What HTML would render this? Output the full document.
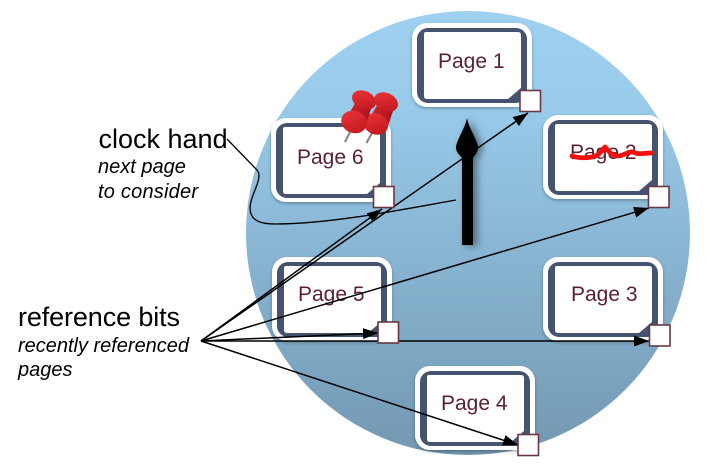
<!DOCTYPE html>
<html>
<head>
<meta charset="utf-8">
<style>
html,body{margin:0;padding:0;background:#fff;width:724px;height:472px;overflow:hidden}
svg{display:block}
text{font-family:"Liberation Sans",sans-serif}
.p{font-size:21px;fill:#5a2230}
.h{font-size:27px;fill:#000}
.i{font-size:20px;font-style:italic;fill:#000}
.sq{fill:#fff;stroke:#693843;stroke-width:1.6}
</style>
</head>
<body>
<svg width="724" height="472" viewBox="0 0 724 472" xmlns="http://www.w3.org/2000/svg">
<defs>
<linearGradient id="bg" x1="0" y1="0" x2="0" y2="1">
<stop offset="0" stop-color="#9fd0f0"/>
<stop offset="0.2" stop-color="#99cbeb"/>
<stop offset="1" stop-color="#7398b2"/>
</linearGradient>
<linearGradient id="pin" x1="0" y1="0" x2="1" y2="1">
<stop offset="0" stop-color="#ee3438"/>
<stop offset="1" stop-color="#bb161f"/>
</linearGradient>
<linearGradient id="stem" x1="0" y1="0" x2="1" y2="0">
<stop offset="0" stop-color="#de262c"/>
<stop offset="1" stop-color="#a5121c"/>
</linearGradient>
<filter id="s" x="-20%" y="-20%" width="140%" height="140%"><feDropShadow dx="0" dy="1.5" stdDeviation="1.5" flood-color="#000" flood-opacity=".3"/></filter>
<filter id="hs" x="-80%" y="-10%" width="260%" height="120%"><feDropShadow dx="4" dy="1" stdDeviation="4" flood-color="#000" flood-opacity=".45"/></filter>
<marker id="a" markerUnits="userSpaceOnUse" markerWidth="16" markerHeight="12" refX="15" refY="6" orient="auto"><path d="M0,0.5 L15,6 L0,11.5 Z" fill="#000"/></marker>
<g id="card">
<rect x="0" y="0" width="120" height="84" rx="15" fill="#fff" filter="url(#s)"/>
<rect x="5" y="5" width="110" height="75" rx="11" fill="#46536f"/>
<path d="M14,9 H106 Q109,9 109,12 V65 L96,76 H15 Q12,76 12,73 V11 Q12,9 14,9 Z" fill="#fff"/>
</g>
</defs>

<circle cx="468" cy="233" r="222" fill="url(#bg)"/>

<use href="#card" x="412" y="23"/>
<use href="#card" x="543" y="115"/>
<use href="#card" x="543" y="257"/>
<use href="#card" x="415" y="366"/>
<use href="#card" x="272" y="257"/>
<use href="#card" x="271" y="118"/>

<text class="p" x="438" y="68">Page 1</text>
<text class="p" x="570" y="159">Page 2</text>
<text class="p" x="571" y="301">Page 3</text>
<text class="p" x="441" y="410">Page 4</text>
<text class="p" x="298" y="301">Page 5</text>
<text class="p" x="297" y="164">Page 6</text>

<path d="M572,156 C578,158 586,158 592,157 C598,156 601,152 605,147 C608,150 611,156 618,156 C624,156 628,151 633,152 C638,155 644,153 651,153" fill="none" stroke="#f60f0f" stroke-width="4.8" stroke-linecap="round" stroke-linejoin="round"/>

<path d="M467,118 C469,128 476,138 478,146 C479,152 474,156 473,158 V245 H462 V158 C461,156 455,152 456,146 C458,138 465,128 467,118 Z" fill="#000" filter="url(#hs)"/>

<path d="M227,139 L257,170 C264,178 250,195 250,208 C250,222 263,224 275,224 C330,224 400,210 456,200" fill="none" stroke="#000" stroke-width="1.3"/>

<g fill="none" stroke="#000" stroke-width="1.5">
<line x1="201" y1="341" x2="528" y2="113" marker-end="url(#a)"/>
<line x1="201" y1="341" x2="382" y2="209" marker-end="url(#a)"/>
<line x1="201" y1="341" x2="649" y2="208" marker-end="url(#a)"/>
<line x1="201" y1="341" x2="378" y2="333" marker-end="url(#a)"/>
<line x1="201" y1="341" x2="649" y2="341" marker-end="url(#a)"/>
<line x1="201" y1="341" x2="518" y2="445" marker-end="url(#a)"/>
</g>

<rect class="sq" x="520" y="90.500" width="20.500" height="21"/>
<rect class="sq" x="648.500" y="186.500" width="20.500" height="21"/>
<rect class="sq" x="373.500" y="186.500" width="20.500" height="21"/>
<rect class="sq" x="378" y="322" width="20.500" height="21"/>
<rect class="sq" x="649.500" y="325" width="20.500" height="21"/>
<rect class="sq" x="518" y="434.500" width="20.500" height="21"/>

<g>
<line x1="372" y1="133" x2="366.500" y2="143" stroke="#8a8a8a" stroke-width="2.2"/>
<path d="M378,104 L367,122 L387,129 L394,108 Z" fill="url(#stem)"/>
<ellipse cx="376" cy="124" rx="12.500" ry="10.500" transform="rotate(20 376 124)" fill="url(#pin)"/>
<ellipse cx="386" cy="102" rx="12.500" ry="9" transform="rotate(25 386 102)" fill="url(#pin)"/>
<line x1="350" y1="132" x2="345" y2="142" stroke="#8a8a8a" stroke-width="2.2"/>
<path d="M356,102 L345,120 L365,127 L372,106 Z" fill="url(#stem)"/>
<ellipse cx="354" cy="122" rx="13" ry="11" transform="rotate(20 354 122)" fill="url(#pin)"/>
<ellipse cx="364" cy="100" rx="12.500" ry="9" transform="rotate(25 364 100)" fill="url(#pin)"/>
</g>

<text class="h" x="98.500" y="148">clock hand</text>
<text class="i" x="98" y="173">next page</text>
<text class="i" x="98" y="198" textLength="100">to consider</text>
<text class="h" x="18" y="326" textLength="162">reference bits</text>
<text class="i" x="18" y="352" textLength="171">recently referenced</text>
<text class="i" x="18" y="376">pages</text>
</svg>
</body>
</html>
